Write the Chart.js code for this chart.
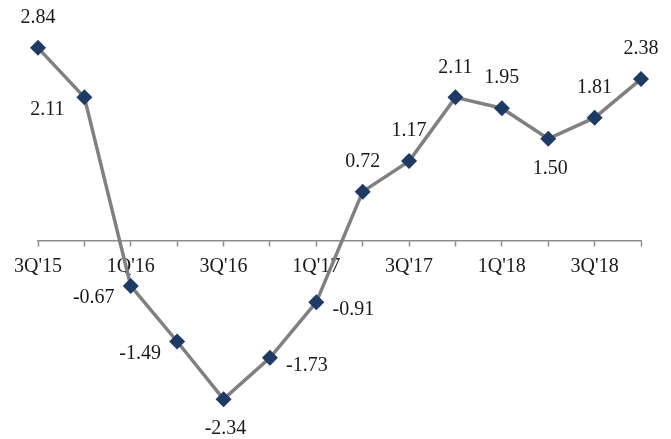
<!DOCTYPE html>
<html>
<head>
<meta charset="utf-8">
<script src="https://cdn.jsdelivr.net/npm/chart.js@4/dist/chart.umd.min.js"></script>
<style>
  html, body { margin: 0; padding: 0; background: #ffffff; }
  #wrap { width: 671px; height: 439px; position: relative; }
</style>
</head>
<body>
<div id="wrap"><canvas id="c"></canvas></div>
<script>
// Quarterly series
const quarters = ["3Q'15", "4Q'15", "1Q'16", "2Q'16", "3Q'16", "4Q'16", "1Q'17", "2Q'17",
                  "3Q'17", "4Q'17", "1Q'18", "2Q'18", "3Q'18", "4Q'18"];
const values = [2.84, 2.11, -0.67, -1.49, -2.34, -1.73, -0.91, 0.72, 1.17, 2.11, 1.95, 1.50, 1.81, 2.38];
// Only every second quarter carries a visible tick label
const shownTicks = ["3Q'15", "1Q'16", "3Q'16", "1Q'17", "3Q'17", "1Q'18", "3Q'18"];

// Where each value label sits relative to its marker
const labelSide = ['above', 'left', 'left', 'left', 'below', 'right', 'right',
                   'above', 'above', 'above', 'above', 'below', 'above', 'above'];

const FONT = "'Liberation Serif', 'Times New Roman', serif";

const valueLabels = {
  id: 'valueLabels',
  afterDatasetsDraw(chart) {
    const ctx = chart.ctx;
    const meta = chart.getDatasetMeta(0);
    const offsets = {
      above: [0, -30],
      below: [2, 30],
      left: [-37, 12],
      right: [37, 8]
    };
    ctx.save();
    ctx.font = '20px ' + FONT;
    ctx.fillStyle = '#1a1a1a';
    ctx.textAlign = 'center';
    ctx.textBaseline = 'middle';
    meta.data.forEach((pt, i) => {
      const off = offsets[labelSide[i]];
      ctx.fillText(values[i].toFixed(2), pt.x + off[0], pt.y + off[1]);
    });
    ctx.restore();
  }
};

new Chart(document.getElementById('c'), {
  type: 'line',
  data: {
    labels: quarters,
    datasets: [{
      data: values,
      borderColor: '#808080',
      borderWidth: 3.5,
      tension: 0,
      pointStyle: 'rectRot',
      pointRadius: 8,
      pointBackgroundColor: '#1f3a63',
      pointBorderColor: '#1f3a63',
      pointBorderWidth: 0,
      clip: false
    }]
  },
  options: {
    responsive: true,
    maintainAspectRatio: false,
    animation: false,
    layout: { padding: { left: 38, right: 30, top: 37, bottom: 29 } },
    plugins: {
      legend: { display: false },
      tooltip: { enabled: false }
    },
    scales: {
      y: {
        display: false,
        min: -2.5,
        max: 3
      },
      x: {
        position: { y: 0 },
        offset: false,
        grid: {
          drawOnChartArea: false,
          drawTicks: true,
          tickLength: 5,
          tickWidth: 1.5,
          color: '#8c8c8c'
        },
        border: { display: true, color: '#8c8c8c', width: 1.5 },
        ticks: {
          autoSkip: false,
          maxRotation: 0,
          padding: 9,
          color: '#1a1a1a',
          font: { family: FONT, size: 20 },
          callback: function(v, i) {
            const lab = quarters[i];
            return shownTicks.includes(lab) ? lab : '';
          }
        }
      }
    }
  },
  plugins: [valueLabels]
});
</script>
</body>
</html>
